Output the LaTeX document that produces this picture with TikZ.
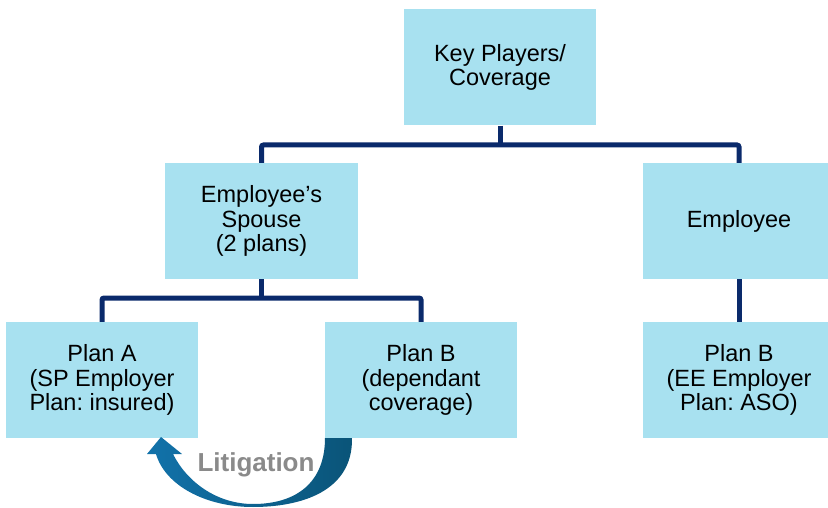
\documentclass[tikz,border=0pt]{standalone}
\usepackage{fontspec}
\setmainfont{Liberation Sans}
\frenchspacing
\definecolor{boxblue}{HTML}{A8E1F0}
\definecolor{linenavy}{HTML}{0A2A6B}
\definecolor{arrowleft}{HTML}{1272AA}
\definecolor{arrowright}{HTML}{0A5478}
\definecolor{litgrey}{HTML}{8A8A8A}
\tikzset{
  player/.style={fill=boxblue, minimum height=116pt, align=center, inner sep=0pt,
    font=\fontsize{23.5}{24.5}\selectfont},
  conn/.style={draw=linenavy, line width=5pt, rounded corners=2pt}
}
\begin{document}
\begin{tikzpicture}[x=1pt,y=-1pt]
\useasboundingbox (0,0) rectangle (828,508);
% boxes
\node[player, minimum width=192pt] (key) at (500,67.5) {Key Players/\\Coverage};
\node[player, minimum width=193pt] (spouse) at (261.5,221) {Employee's\\Spouse\\(2 plans)};
\node[player, minimum width=192pt] (employee) at (739,221) {Employee};
\node[player, minimum width=192pt] (planA) at (102,380) {Plan A\\(SP Employer\\Plan: insured)};
\node[player, minimum width=192pt] (planBsp) at (421,380) {Plan B\\(dependant\\coverage)};
\node[player, minimum width=192pt] (planBee) at (739,380) {Plan B\\(EE Employer\\Plan: ASO)};
% connectors
\coordinate (topbus) at (500,145);
\coordinate (spbus) at (261.5,298);
\draw[conn] (key.south) -- (topbus);
\draw[conn] (spouse.north) |- (topbus) -| (employee.north);
\draw[conn] (spouse.south) -- (spbus);
\draw[conn] (planA.north) |- (spbus) -| (planBsp.north);
\draw[conn] (employee.south) -- (planBee.north);
% litigation arrow
\shade[left color=arrowleft, right color=arrowright]
  (325,438) -- (352,438)
  .. controls (353,492) and (300,507) .. (253,507)
  .. controls (205,507) and (165,485) .. (156,454)
  -- (147,454) -- (161,437) -- (182,454) -- (173,454)
  .. controls (187,482) and (217,504) .. (253,504)
  .. controls (297,504) and (325,482) .. (325,438) -- cycle;
\node[text=litgrey, font=\fontsize{26}{28}\selectfont\bfseries] (litigation) at (256,465) {Litigation};
\end{tikzpicture}
\end{document}
